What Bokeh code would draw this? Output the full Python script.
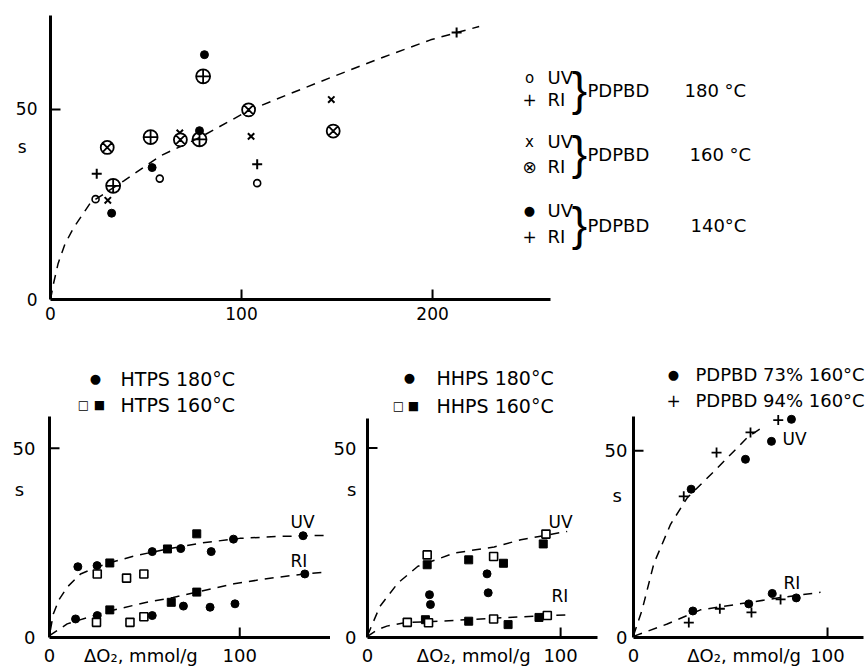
import math
from bokeh.plotting import figure
from bokeh.layouts import column, row
from bokeh.models import Range1d, FixedTicker, Label
from bokeh.embed import file_html
from bokeh.resources import INLINE

FONT = "DejaVu Sans"

# ---------------- data: top chart (PDPBD) ----------------
top_uv180_x = [23.6, 57.2, 108.2]
top_uv180_y = [26.4, 31.8, 30.6]
top_ri_plus_x = [24.2, 108.2, 212.6]
top_ri_plus_y = [33.1, 35.6, 70.2]
top_uv160_x = [30.0, 67.7, 105.0, 147.0]
top_uv160_y = [26.1, 43.8, 42.9, 52.6]
top_ri160_x = [29.7, 68.0, 103.7, 148.0]
top_ri160_y = [40.0, 42.0, 49.9, 44.3]
top_uv140_x = [32.0, 53.2, 78.0, 80.6]
top_uv140_y = [22.7, 34.7, 44.4, 64.4]
top_ri140_x = [32.8, 52.4, 78.0, 79.9]
top_ri140_y = [29.9, 42.7, 42.1, 58.7]
top_curve_x = [0, 1.5, 4.0, 7.5, 12.0, 21.0, 38.4, 57.6, 78.5, 103.8, 125.7, 148.3, 174.5, 199.0, 212.6, 224.4]
top_curve_y = [0, 4.0, 9.5, 14.5, 18.8, 25.5, 31.2, 37.8, 42.7, 49.7, 54.2, 58.7, 63.8, 68.3, 70.2, 71.8]

# ---------------- data: HTPS ----------------
htps180_uv_x = [14.9, 25.0, 54.0, 69.0, 85.0, 96.7, 133.3]
htps180_uv_y = [18.7, 19.0, 22.7, 23.5, 22.7, 26.0, 26.9]
htps160_uv_fill_x = [31.7, 62.0, 77.4]
htps160_uv_fill_y = [19.7, 23.4, 27.4]
htps160_uv_open_x = [25.1, 40.5, 49.6]
htps160_uv_open_y = [16.8, 15.7, 16.8]
htps180_ri_x = [13.7, 25.1, 54.0, 70.4, 84.4, 97.5, 134.2]
htps180_ri_y = [4.9, 5.8, 5.8, 8.3, 8.0, 8.9, 16.8]
htps160_ri_fill_x = [31.7, 64.0, 77.4]
htps160_ri_fill_y = [7.3, 9.3, 12.0]
htps160_ri_open_x = [24.7, 42.3, 49.6]
htps160_ri_open_y = [4.0, 4.0, 5.5]
htps_uv_curve_x = [0.5, 2.0, 5.0, 9.3, 16.3, 25.0, 32.0, 45.0, 60.0, 80.0, 100.0, 120.0, 145.0]
htps_uv_curve_y = [2.0, 6.2, 10.0, 13.3, 16.8, 18.6, 19.8, 21.6, 23.2, 25.0, 26.2, 26.7, 27.0]
htps_ri_curve_x = [0.0, 9.3, 20.0, 31.7, 50.0, 65.0, 80.0, 97.0, 115.0, 134.0, 145.0]
htps_ri_curve_y = [0.5, 3.6, 5.3, 7.0, 9.2, 10.6, 12.3, 14.2, 15.6, 16.8, 17.3]

# ---------------- data: HHPS ----------------
hhps160_uv_open_x = [30.9, 65.3, 92.4]
hhps160_uv_open_y = [21.8, 21.4, 27.3]
hhps160_uv_fill_x = [30.9, 52.4, 70.4, 91.0]
hhps160_uv_fill_y = [19.2, 20.5, 19.6, 24.7]
hhps180_x = [32.1, 32.6, 61.9, 62.5]
hhps180_y = [11.3, 8.7, 16.8, 11.8]
hhps160_ri_open_x = [20.6, 31.6, 65.3, 93.1]
hhps160_ri_open_y = [4.0, 3.9, 4.9, 5.8]
hhps160_ri_fill_x = [30.0, 52.4, 72.8, 88.8]
hhps160_ri_fill_y = [4.7, 4.3, 3.4, 5.3]
hhps_uv_curve_x = [0.0, 6.4, 15.8, 26.1, 45.0, 65.6, 79.4, 103.4]
hhps_uv_curve_y = [0.5, 8.2, 14.4, 18.8, 22.3, 23.9, 25.8, 28.0]
hhps_ri_curve_x = [0.0, 5.0, 10.0, 19.2, 45.0, 65.6, 90.0, 104.0]
hhps_ri_curve_y = [0.3, 2.0, 3.0, 3.9, 4.5, 5.1, 5.7, 6.0]

# ---------------- data: PDPBD 73% / 94% ----------------
p73_uv_x = [29.7, 57.7, 71.1, 81.4]
p73_uv_y = [39.7, 47.7, 52.5, 58.4]
p94_uv_x = [25.9, 42.8, 60.3, 74.6]
p94_uv_y = [37.8, 49.5, 54.9, 58.2]
p73_ri_x = [30.6, 59.4, 71.5, 83.9]
p73_ri_y = [7.1, 9.0, 11.8, 10.6]
p94_ri_x = [28.5, 44.5, 60.8, 75.8]
p94_ri_y = [4.0, 7.7, 6.7, 10.2]
pd_uv_curve_x = [0.0, 4.5, 10.5, 19.1, 27.7, 43.1, 59.0, 67.2]
pd_uv_curve_y = [0.5, 7.5, 19.8, 30.3, 37.4, 45.3, 53.7, 56.5]
pd_ri_curve_x = [0.0, 17.4, 34.5, 58.6, 75.8, 96.4]
pd_ri_curve_y = [0.3, 3.6, 7.4, 9.3, 10.7, 12.1]

top_xticks = [0, 100, 200]
bottom_xticks = [0, 100]
yticks = [0, 50]
X_LABEL = "ΔO₂, mmol/g"
Y_LABEL = "s"
TICK_PX = 10


# ---------------- helpers ----------------
def make_fig(g, xticks, tick_font):
    x0, y0, w, h = g["box"]
    L, R, T, B = g["frame"]
    p = figure(width=w, height=h, output_backend="svg", toolbar_location=None,
               x_range=Range1d(*g["xr"]), y_range=Range1d(*g["yr"]),
               min_border_left=L - x0, min_border_right=x0 + w - R,
               min_border_top=T - y0, min_border_bottom=y0 + h - B)
    p.outline_line_color = None
    p.grid.visible = False
    p.background_fill_color = "white"
    p.border_fill_color = "white"
    # axis-name labels sit among the tick labels, as in the original
    xt_all = list(xticks) + ([g["xlab_at"]] if "xlab_at" in g else [])
    yt_all = list(yticks) + [g["ylab_at"]]
    for ax, ticks in ((p.xaxis, xt_all), (p.yaxis, yt_all)):
        ax.ticker = FixedTicker(ticks=ticks)
        ax.axis_line_width = 3
        ax.axis_line_color = "black"
        ax.major_tick_in = 0
        ax.major_tick_out = 0
        ax.minor_tick_line_color = None
        ax.major_label_text_font = FONT
        ax.major_label_text_font_size = tick_font
        ax.major_label_text_color = "black"
    p.yaxis.major_label_overrides = {g["ylab_at"]: Y_LABEL + "\u00a0" * g.get("spad", 0)}
    if "xlab_at" in g:
        p.xaxis.major_label_overrides = {g["xlab_at"]: X_LABEL}
    p.xaxis.bounds = (0, g["xend"])
    p.yaxis.bounds = (0, g["yend"])
    p.xaxis.major_label_standoff = 7
    p.yaxis.major_label_standoff = g.get("ystand", 12)
    return p


def add_ticks(p, g, xticks):
    # inward tick marks of TICK_PX pixels: dash markers centred half a tick inside the frame
    L, R, T, B = g["frame"]
    half_dy = 0.5 * TICK_PX * (g["yr"][1] - g["yr"][0]) / (B - T)
    half_dx = 0.5 * TICK_PX * (g["xr"][1] - g["xr"][0]) / (R - L)
    xt = [t for t in xticks if t > 0]
    yt = [t for t in yticks if t > 0]
    p.scatter(xt, [half_dy] * len(xt), marker="dash", angle=math.pi / 2, size=TICK_PX,
              line_color="black", line_width=2)
    p.scatter([half_dx] * len(yt), yt, marker="dash", size=TICK_PX,
              line_color="black", line_width=2)


def label(p, g, px, py, text, size, align="left", font=FONT):
    # position in page pixels -> screen units relative to the frame (bottom-left origin)
    L, R, T, B = g["frame"]
    p.add_layout(Label(x=px - L, y=B - py, x_units="screen", y_units="screen",
                       text=text, text_align=align, text_baseline="middle",
                       text_font=font, text_font_size=size, text_color="black"))


def curve(p, xs, ys):
    p.line(xs, ys, line_color="black", line_width=1.5, line_dash="9 7")


# ---------------- top chart ----------------
gt = dict(box=(0, 0, 867, 340), frame=(50, 867, 15, 299), xr=(0, 427.7), yr=(0, 74.7),
          xend=261.8, yend=74.7, ystand=13, ylab_at=40, spad=2)
pt = make_fig(gt, top_xticks, "17px")
curve(pt, top_curve_x, top_curve_y)
pt.scatter(top_uv180_x, top_uv180_y, marker="circle", size=7, fill_color=None, line_color="black", line_width=1.6)
pt.scatter(top_ri_plus_x, top_ri_plus_y, marker="cross", size=10, line_color="black", line_width=2)
pt.scatter(top_uv160_x, top_uv160_y, marker="x", size=9, line_color="black", line_width=2)
pt.scatter(top_ri160_x, top_ri160_y, marker="circle_x", size=13, fill_color="white", line_color="black", line_width=1.8)
pt.scatter(top_uv140_x, top_uv140_y, marker="circle", size=8, fill_color="black", line_color="black")
pt.scatter(top_ri140_x, top_ri140_y, marker="circle_cross", size=14, fill_color=None, line_color="black", line_width=1.8)
add_ticks(pt, gt, top_xticks)
legend_rows = [
    (77, 99, 88, "o", "180 °C", 684),
    (141, 166, 152, "x", "160 °C", 689),
    (210, 236, 223, "●", "140°C", 690),
]
for yu, yr_, yb, sym, temp, tx in legend_rows:
    label(pt, gt, 529, yu, sym, "15px" if sym != "●" else "13px", "center")
    label(pt, gt, 547, yu, "UV", "18px")
    label(pt, gt, 529, yr_, "⊗" if sym == "x" else "+", "17px", "center")
    label(pt, gt, 547, yr_, "RI", "18px")
    label(pt, gt, 579, yb, "}", "46px", "center", font="Liberation Sans")
    label(pt, gt, 587, yb + 2, "PDPBD", "18px")
    label(pt, gt, tx, yb + 2, temp, "18px")

# ---------------- panel 1: HTPS ----------------
g1 = dict(box=(0, 340, 330, 332), frame=(49, 330, 340, 637), xr=(0, 147.7), yr=(0, 78.5),
          xend=147.7, yend=58.4, ystand=14, ylab_at=39, spad=2, xlab_at=48)
p1 = make_fig(g1, bottom_xticks, "18px")
curve(p1, htps_uv_curve_x, htps_uv_curve_y)
curve(p1, htps_ri_curve_x, htps_ri_curve_y)
for xs, ys in ((htps180_uv_x, htps180_uv_y), (htps180_ri_x, htps180_ri_y)):
    p1.scatter(xs, ys, marker="circle", size=8, fill_color="black", line_color="black")
for xs, ys in ((htps160_uv_fill_x, htps160_uv_fill_y), (htps160_ri_fill_x, htps160_ri_fill_y)):
    p1.scatter(xs, ys, marker="square", size=8, fill_color="black", line_color="black")
for xs, ys in ((htps160_uv_open_x, htps160_uv_open_y), (htps160_ri_open_x, htps160_ri_open_y)):
    p1.scatter(xs, ys, marker="square", size=8, fill_color="white", line_color="black", line_width=1.6)
add_ticks(p1, g1, bottom_xticks)
label(p1, g1, 290, 521, "UV", "17px")
label(p1, g1, 290, 560, "RI", "17px")
label(p1, g1, 95, 378, "●", "13px", "center")
label(p1, g1, 120, 378, "HTPS 180°C", "19px")
label(p1, g1, 83, 404, "□", "12px", "center")
label(p1, g1, 99, 404, "■", "12px", "center")
label(p1, g1, 120, 404, "HTPS 160°C", "19px")

# ---------------- panel 2: HHPS ----------------
g2 = dict(box=(330, 340, 268, 332), frame=(366, 597, 340, 638), xr=(0, 119.1), yr=(0, 78.4),
          xend=119.1, yend=57.9, ystand=11, ylab_at=39, spad=0, xlab_at=55)
p2 = make_fig(g2, bottom_xticks, "18px")
curve(p2, hhps_uv_curve_x, hhps_uv_curve_y)
curve(p2, hhps_ri_curve_x, hhps_ri_curve_y)
for xs, ys in ((hhps160_uv_fill_x, hhps160_uv_fill_y), (hhps160_ri_fill_x, hhps160_ri_fill_y)):
    p2.scatter(xs, ys, marker="square", size=8, fill_color="black", line_color="black")
for xs, ys in ((hhps160_uv_open_x, hhps160_uv_open_y), (hhps160_ri_open_x, hhps160_ri_open_y)):
    p2.scatter(xs, ys, marker="square", size=8, fill_color="white", line_color="black", line_width=1.6)
p2.scatter(hhps180_x, hhps180_y, marker="circle", size=8, fill_color="black", line_color="black")
add_ticks(p2, g2, bottom_xticks)
label(p2, g2, 547, 522, "UV", "17px")
label(p2, g2, 550, 596, "RI", "17px")
label(p2, g2, 408, 378, "●", "13px", "center")
label(p2, g2, 435, 378, "HHPS 180°C", "19px")
label(p2, g2, 397, 406, "□", "12px", "center")
label(p2, g2, 412, 406, "■", "12px", "center")
label(p2, g2, 435, 406, "HHPS 160°C", "19px")

# ---------------- panel 3: PDPBD 73% / 94% ----------------
g3 = dict(box=(598, 340, 269, 332), frame=(633, 867, 340, 642), xr=(0, 120.6), yr=(0, 79.5),
          xend=118.6, yend=59.2, ystand=6, ylab_at=38, spad=1, xlab_at=57)
p3 = make_fig(g3, bottom_xticks, "18px")
curve(p3, pd_uv_curve_x, pd_uv_curve_y)
curve(p3, pd_ri_curve_x, pd_ri_curve_y)
for xs, ys in ((p73_uv_x, p73_uv_y), (p73_ri_x, p73_ri_y)):
    p3.scatter(xs, ys, marker="circle", size=8, fill_color="black", line_color="black")
for xs, ys in ((p94_uv_x, p94_uv_y), (p94_ri_x, p94_ri_y)):
    p3.scatter(xs, ys, marker="cross", size=10, line_color="black", line_width=1.8)
add_ticks(p3, g3, bottom_xticks)
label(p3, g3, 782, 443, "UV", "17px")
label(p3, g3, 783, 587, "RI", "17px")
label(p3, g3, 673, 379, "●", "13px", "center")
label(p3, g3, 695, 379, "PDPBD 73% 160°C", "18px")
label(p3, g3, 673, 405, "+", "17px", "center")
label(p3, g3, 695, 405, "PDPBD 94% 160°C", "18px")

layout = column(pt, row(p1, p2, p3, spacing=0), spacing=0)
open("out.html", "w").write(file_html(layout, INLINE))
